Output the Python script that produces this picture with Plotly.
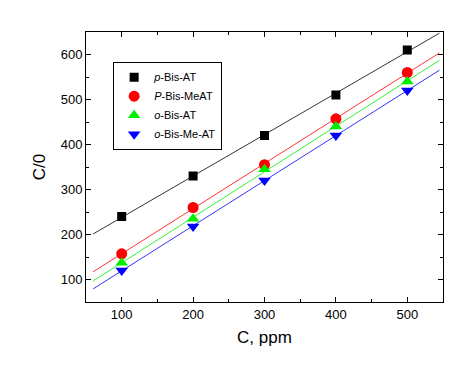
import numpy as np
import plotly.graph_objects as go

conc = [100, 200, 300, 400, 500]
p_bis_at = [240, 330, 420, 510, 610]
p_bis_meat = [157, 260, 355, 457, 560]
o_bis_at = [137, 235, 345, 440, 540]
o_bis_me_at = [120, 218, 320, 420, 520]
names = ["<i>p</i>-Bis-AT", "<i>P</i>-Bis-MeAT", "<i>o</i>-Bis-AT", "<i>o</i>-Bis-Me-AT"]
colors = ["black", "#ff0000", "#00ee00", "#0000ff"]
symbols = ["square", "circle", "triangle-up", "triangle-down"]
sizes = [9, 11, 11, 11]
fit_x = [60, 545]

fig = go.Figure()
series = [p_bis_at, p_bis_meat, o_bis_at, o_bis_me_at]
for ys, c in zip(series, colors):
    k, b = np.polyfit(conc, ys, 1)
    fx = np.array(fit_x, dtype=float)
    fig.add_trace(go.Scatter(x=fx, y=k * fx + b, mode="lines",
                             line=dict(color=c, width=0.8), showlegend=False,
                             hoverinfo="skip"))
for ys, n, c, s, sz in zip(series, names, colors, symbols, sizes):
    fig.add_trace(go.Scatter(x=conc, y=ys, mode="markers", name=n,
                             marker=dict(color=c, symbol=s, size=sz, line=dict(width=0))))

axis_common = dict(showline=True, linecolor="black", linewidth=1, mirror="ticks",
                   ticks="inside", ticklen=5, tickwidth=1, tickcolor="black",
                   showgrid=False, zeroline=False,
                   tickfont=dict(family="Liberation Sans, Arial", size=13, color="black"),
                   minor=dict(ticks="inside", ticklen=3, tickcolor="black", dtick=50))
fig.update_xaxes(range=[50, 550], dtick=100, tick0=0,
                 title=dict(text="C, ppm", font=dict(family="Liberation Sans, Arial", size=17, color="black"), standoff=10),
                 **axis_common)
fig.update_yaxes(range=[50, 650], dtick=100, tick0=0,
                 title=dict(text="C/0", font=dict(family="Liberation Sans, Arial", size=17, color="black"), standoff=10),
                 **axis_common)
fig.update_layout(width=466, height=378, margin=dict(l=78, r=31, t=24, b=84),
                  plot_bgcolor="white", paper_bgcolor="white",
                  legend=dict(x=0.076, y=0.89, xanchor="left", yanchor="top",
                              bgcolor="white", bordercolor="black", borderwidth=1,
                              font=dict(family="Liberation Sans, Arial", size=11, color="black"),
                              tracegroupgap=0, itemwidth=30))
fig.write_html("out.html")
